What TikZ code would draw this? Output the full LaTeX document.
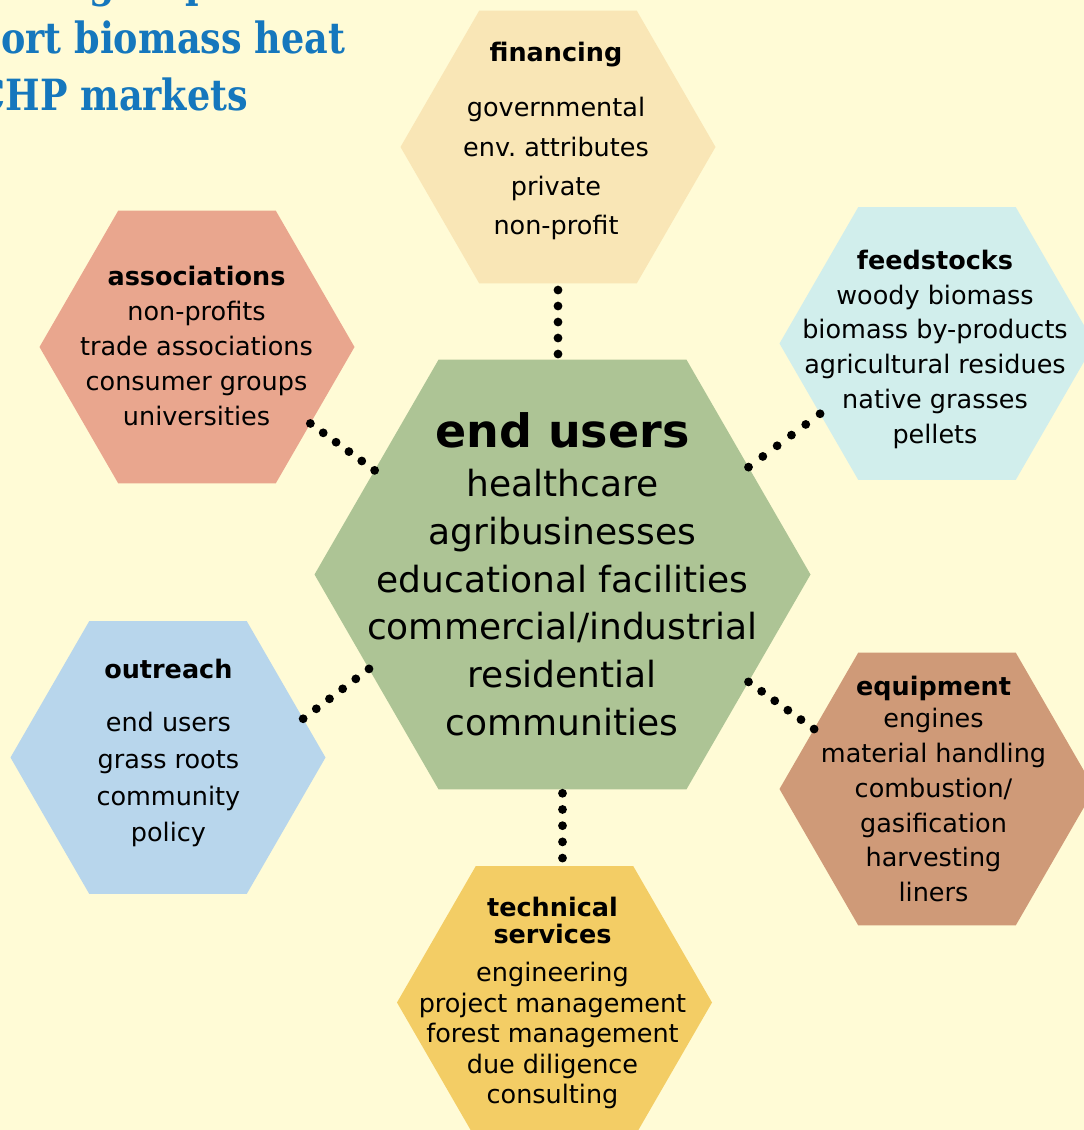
\documentclass[tikz,border=0pt]{standalone}
\usepackage{fontspec}
\setmainfont{DejaVu Sans}
\newfontfamily\titlefont[FakeStretch=0.85]{DejaVu Serif}
\usetikzlibrary{shapes.geometric,calc}
\definecolor{bgcol}{RGB}{255,251,214}
\definecolor{fincol}{RGB}{249,230,182}
\definecolor{assoccol}{RGB}{233,166,142}
\definecolor{feedcol}{RGB}{209,238,236}
\definecolor{outrcol}{RGB}{184,214,236}
\definecolor{equipcol}{RGB}{207,154,120}
\definecolor{techcol}{RGB}{243,205,101}
\definecolor{ctrcol}{RGB}{173,196,149}
\definecolor{titleblue}{RGB}{21,119,189}
\newcommand\dotline[3]{\foreach \k in {0,...,#3}{\fill[dotc] ($(#1)!\k/#3!(#2)$) circle (4.4pt);}}
\begin{document}
\begin{tikzpicture}[x=1pt,y=-1pt,
  hexa/.style={regular polygon, regular polygon sides=6, minimum size=315pt, inner sep=0pt, outer sep=0pt, draw=none},
  lbl/.style={inner sep=0pt, outer sep=0pt, anchor=base},
  ttl/.style={inner sep=0pt, outer sep=0pt, text=titleblue, font=\titlefont\bfseries\fontsize{43}{50}\selectfont},
  dotc/.style={fill=black}]
\useasboundingbox (0,0) rectangle (1084,1130);
\fill[bgcol] (0,0) rectangle (1084,1130);

% title (cut off at the left and top)
\node[ttl, anchor=base west] (title1) at (90,-2.5) {\llap{Stakeholder }groups that};
\node[ttl, anchor=base east] (title2) at (345,53.3) {support biomass heat};
\node[ttl, anchor=base east] (title3) at (248,110) {and CHP markets};

% hexagons
\node[hexa, fill=fincol] (fin) at (558,147) {};
\node[hexa, fill=assoccol] (assoc) at (197,347) {};
\node[hexa, fill=feedcol] (feed) at (937,343.5) {};
\node[hexa, fill=outrcol] (outr) at (168,757.5) {};
\node[hexa, fill=equipcol] (equip) at (937,789) {};
\node[hexa, fill=techcol] (tech) at (554.5,1002.5) {};
\node[hexa, minimum size=496pt, fill=ctrcol] (ctr) at (562.5,574.5) {};

% dotted connectors
\coordinate (f1) at ($(fin.south)+(0,6.6)$);
\coordinate (f2) at ($(fin.south |- ctr.north)+(0,-5.7)$);
\dotline{f1}{f2}{4}
\coordinate (t1) at ($(ctr.south)+(0,4)$);
\coordinate (t2) at ($(ctr.south |- tech.north)+(0,-8)$);
\dotline{t1}{t2}{4}
\dotline{assoc.-34.5}{ctr.151.2}{5}
\dotline{feed.-149}{ctr.30.4}{5}
\dotline{outr.16.6}{ctr.-154}{5}
\dotline{equip.154.5}{ctr.-30.3}{5}

% texts
\node[lbl, font=\fontsize{25.5}{39.4}\selectfont] (fin-t) at (556,61.7)
  {\begin{tabular}[t]{@{}c@{}}\textbf{financing}\\[15.6pt] governmental\\ env.\ attributes\\ private\\ non-profit\end{tabular}};
\node[lbl, font=\fontsize{25.5}{35}\selectfont] (assoc-t) at (196.5,285)
  {\begin{tabular}[t]{@{}c@{}}\textbf{associations}\\ non-profits\\ trade associations\\ consumer groups\\ universities\end{tabular}};
\node[lbl, font=\fontsize{25.5}{34.8}\selectfont] (feed-t) at (935,269.3)
  {\begin{tabular}[t]{@{}c@{}}\textbf{feedstocks}\\ woody biomass\\ biomass by-products\\ agricultural residues\\ native grasses\\ pellets\end{tabular}};
\node[lbl, font=\fontsize{25.5}{36.7}\selectfont] (outr-t) at (168.4,678.3)
  {\begin{tabular}[t]{@{}c@{}}\textbf{outreach}\\[16.7pt] end users\\ grass roots\\ community\\ policy\end{tabular}};
\node[lbl, font=\fontsize{25.5}{34.9}\selectfont] (equip-t) at (933.5,695)
  {\begin{tabular}[t]{@{}c@{}}\textbf{equipment}\\[-2.6pt] engines\\ material handling\\ combustion/\\ gasification\\ harvesting\\ liners\end{tabular}};
\node[lbl, font=\fontsize{25.5}{30.4}\selectfont] (tech-t) at (552.5,916.7)
  {\begin{tabular}[t]{@{}c@{}}\textbf{technical}\\[-3.7pt] \textbf{services}\\[8pt] engineering\\ project management\\ forest management\\ due diligence\\ consulting\end{tabular}};
\node[lbl, font=\fontsize{36}{47.9}\selectfont] (ctr-t) at (562.3,447.3)
  {\begin{tabular}[t]{@{}c@{}}{\fontsize{46}{46}\selectfont\textbf{end users}}\\[1pt] healthcare\\ agribusinesses\\ educational facilities\\ commercial/industrial\\ residential\\ communities\end{tabular}};
\end{tikzpicture}
\end{document}
